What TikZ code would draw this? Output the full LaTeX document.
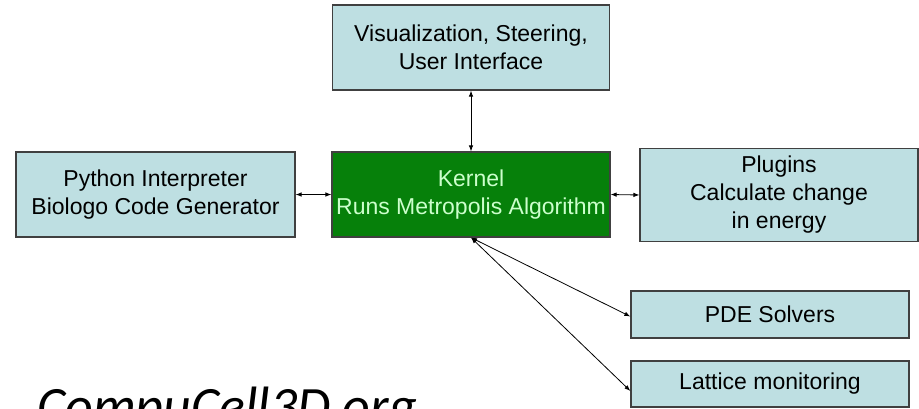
\documentclass[tikz,border=0pt]{standalone}
\usepackage{fontspec}
\setmainfont{Liberation Sans}
\newfontfamily\calibri{Carlito}
\usetikzlibrary{arrows.meta}

\definecolor{boxblue}{HTML}{BEDFE2}
\definecolor{boxline}{HTML}{404040}
\definecolor{kernelgreen}{HTML}{06800A}
\definecolor{kerneltext}{HTML}{CCFFCC}

\begin{document}
\begin{tikzpicture}[x=1pt, y=-1pt,
    module/.style={draw=boxline, line width=1.2pt, fill=boxblue, align=center,
        font=\fontsize{23}{28}\selectfont, inner sep=0pt},
    link/.style={{Latex[length=6pt,width=4.5pt]}-{Latex[length=6pt,width=4.5pt]}, line width=0.8pt}]
    \useasboundingbox (0,0) rectangle (919,408);

    % 畫出方塊
    \node[module, minimum width=277pt, minimum height=85pt] (vis) at (471, 47.5)
        {Visualization, Steering,\\User Interface};
    \node[module, fill=kernelgreen, text=kerneltext, minimum width=278pt, minimum height=85pt] (kernel) at (471, 194.5)
        {Kernel\\Runs Metropolis Algorithm};
    \node[module, minimum width=279pt, minimum height=85pt] (python) at (155.5, 194.5)
        {Python Interpreter\\Biologo Code Generator};
    \node[module, minimum width=278pt, minimum height=93pt] (plugins) at (779, 195)
        {Plugins\\Calculate change\\in energy};
    \node[module, minimum width=278pt, minimum height=47pt] (pde) at (770, 314.5)
        {PDE Solvers};
    \node[module, minimum width=278pt, minimum height=46pt] (lattice) at (770, 384)
        {Lattice monitoring};

    % 畫出箭頭
    \draw[link] (kernel.north) -- (vis.south);
    \draw[link] (python.east) -- (kernel.west);
    \draw[link] (kernel.east) -- (plugins.west);
    \draw[link] (kernel.south) -- ([yshift=-2pt]pde.west);
    \draw[link] (kernel.south) -- ([yshift=-7pt]lattice.west);

    % 網址
    \node[anchor=base west, inner sep=0pt, font=\calibri\itshape\fontsize{54}{64}\selectfont] (site) at (37, 424)
        {CompuCell3D.org};
\end{tikzpicture}
\end{document}
